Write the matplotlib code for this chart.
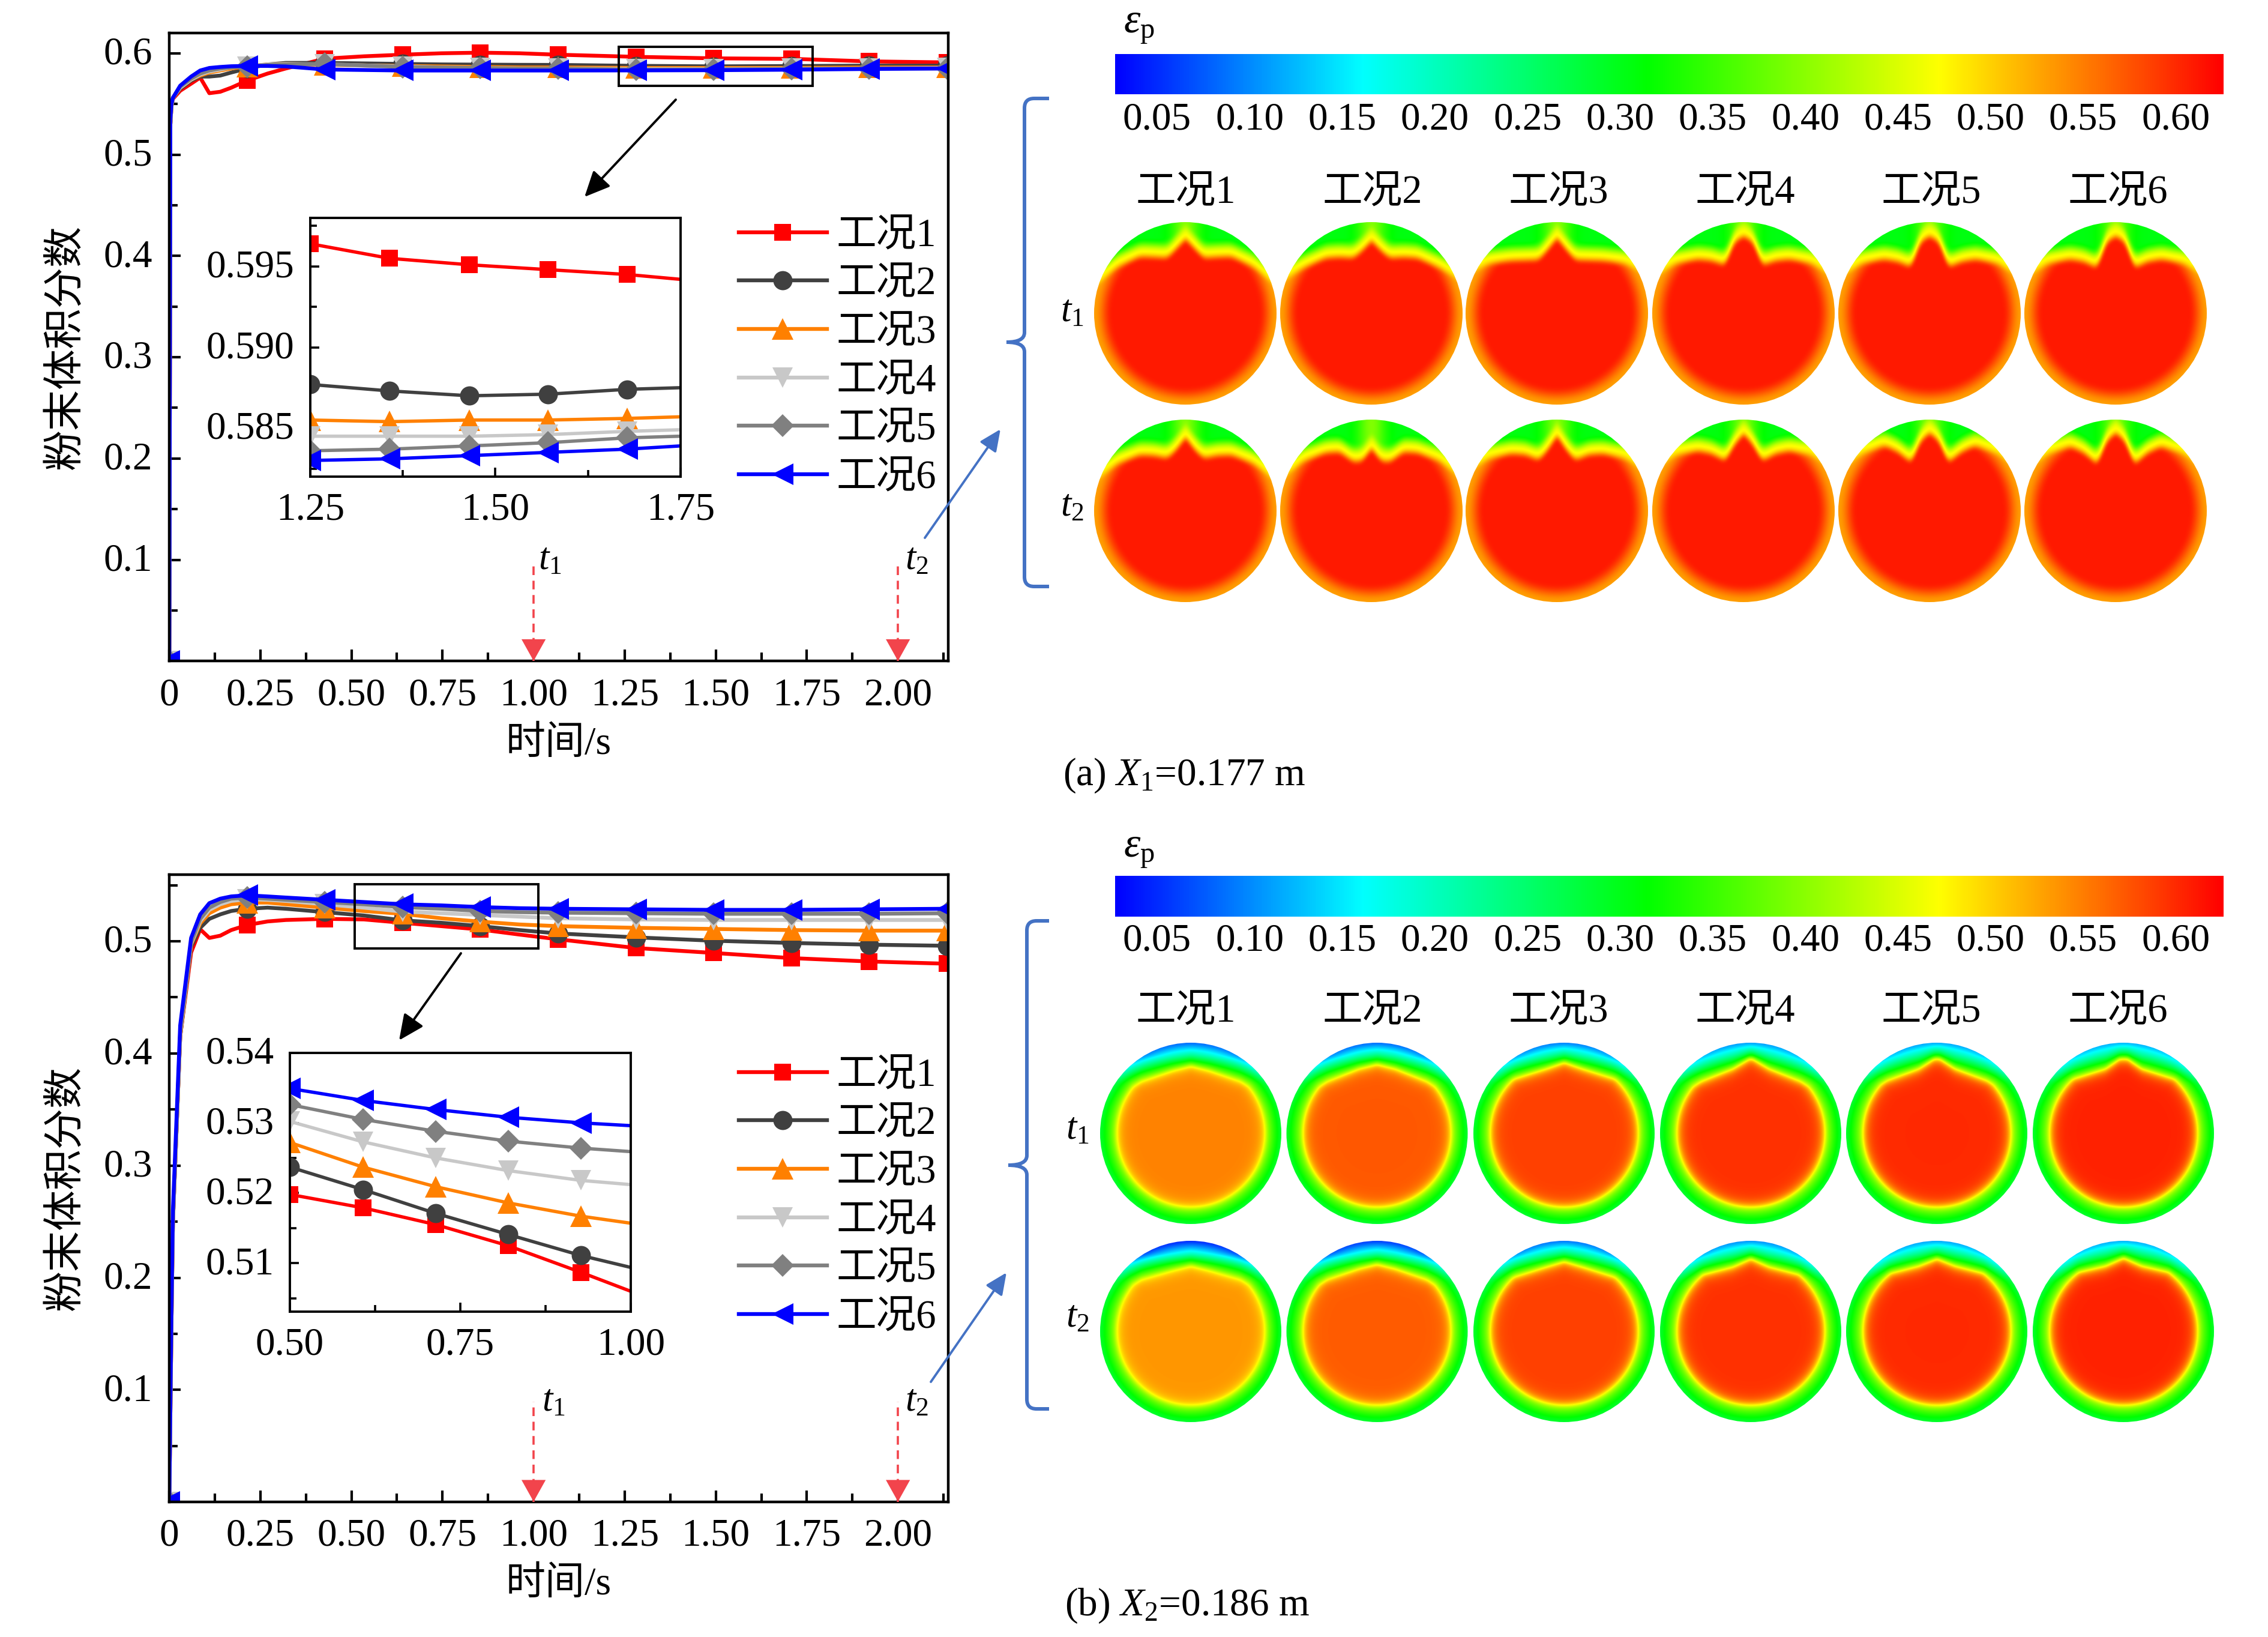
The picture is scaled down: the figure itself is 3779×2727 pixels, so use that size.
import numpy as np
import matplotlib
matplotlib.use("Agg")
import matplotlib.pyplot as plt
from matplotlib.colors import LinearSegmentedColormap
from matplotlib.patches import Circle, PathPatch, Rectangle
from matplotlib.path import Path
from matplotlib.ticker import MultipleLocator, FixedLocator
from matplotlib.transforms import ScaledTranslation

plt.rcParams['font.family'] = ['Liberation Serif', 'Noto Sans CJK SC']
plt.rcParams['mathtext.fontset'] = 'custom'
plt.rcParams['mathtext.rm'] = 'Liberation Serif'
plt.rcParams['mathtext.it'] = 'Liberation Serif:italic'
plt.rcParams['axes.unicode_minus'] = False

W, H = 3780, 2727

names = ['工况1', '工况2', '工况3', '工况4', '工况5', '工况6']
colors = ['#ff0000', '#404040', '#ff8000', '#c8c8c8', '#808080', '#0000ff']
markers = ['s', 'o', '^', 'v', 'D', '<']
marker_sizes = [20, 23, 26, 25, 19, 26]

# time knots of the main curves, marker_idx picks the knots carrying a marker
t_main = [0, .003, .006, .01, .03, .06, .085, .11, .14, .17, .2135, .27, .32, .427,
          .534, .64, .747, .854, .961, 1.067, 1.281, 1.494, 1.708, 1.921, 2.135]
marker_idx = [0, 10, 13, 15, 17, 19, 20, 21, 22, 23, 24]

a_case1 = [0, .530, .548, .555, .563, .570, .576, .5606, .562, .566, .573, .580, .585, .5947,
           .597, .5986, .600, .6006, .600, .5986, .5965, .595, .5945, .592, .591]
a_case2 = [0, .530, .548, .556, .565, .573, .577, .577, .578, .581, .585, .589, .5905, .5905,
           .590, .5895, .589, .5888, .5886, .5885, .5876, .5871, .5874, .5878, .5878]
a_case3 = [0, .530, .548, .556, .566, .574, .578, .581, .583, .585, .587, .589, .5895, .5885,
           .588, .5875, .587, .5865, .586, .586, .5855, .5855, .5856, .586, .586]
a_case4 = [0, .530, .548, .556, .566, .574, .579, .582, .584, .586, .587, .589, .5895, .589,
           .588, .587, .586, .5855, .585, .585, .5845, .5845, .5848, .585, .5855]
a_case5 = [0, .530, .548, .556, .567, .575, .580, .583, .585, .586, .587, .5885, .589, .5895,
           .588, .5865, .586, .5855, .585, .585, .5838, .584, .5845, .585, .585]
a_case6 = [0, .535, .550, .556, .568, .577, .583, .5855, .5865, .5872, .5875, .5875, .587, .584,
           .5835, .583, .583, .583, .583, .583, .5831, .5833, .5838, .5845, .585]
a_series = [a_case1, a_case2, a_case3, a_case4, a_case5, a_case6]

b_case1 = [0, .08, .16, .25, .415, .490, .5107, .503, .505, .510, .5145, .5177, .519, .520,
           .5195, .5165, .5135, .5105, .506, .5018, .494, .4896, .485, .482, .480]
b_case2 = [0, .08, .16, .25, .415, .495, .512, .520, .524, .527, .529, .530, .529, .526,
           .523, .5187, .5165, .5135, .510, .507, .5035, .5005, .4985, .497, .496]
b_case3 = [0, .08, .16, .25, .415, .497, .516, .525, .530, .533, .5345, .5345, .533, .530,
           .527, .5245, .5205, .5175, .515, .5135, .512, .511, .510, .5095, .5095]
b_case4 = [0, .08, .16, .25, .417, .498, .518, .528, .533, .536, .5375, .537, .536, .533,
           .530, .5265, .525, .5235, .522, .5205, .5195, .519, .519, .519, .519]
b_case5 = [0, .08, .16, .25, .418, .499, .520, .530, .535, .538, .539, .538, .537, .535,
           .533, .5305, .529, .527, .526, .5255, .525, .5245, .5245, .5245, .525]
b_case6 = [0, .09, .17, .26, .425, .503, .524, .534, .538, .540, .541, .540, .539, .537,
           .535, .533, .532, .5305, .5295, .529, .5285, .528, .528, .5285, .529]
b_series = [b_case1, b_case2, b_case3, b_case4, b_case5, b_case6]

# zoomed insets
inset_a_t = [1.25, 1.357, 1.465, 1.571, 1.678, 1.75]
inset_a = [[.5964, .5955, .5951, .5948, .5945, .5942],
           [.5877, .5873, .5870, .5871, .5874, .5875],
           [.5855, .5854, .5855, .5855, .5856, .5857],
           [.5845, .5845, .5845, .5846, .5848, .5849],
           [.5836, .5837, .5839, .5841, .5844, .5845],
           [.5830, .5831, .5833, .5835, .5837, .5839]]
inset_b_t = [.5, .607, .714, .82, .927, 1.0]
inset_b = [[.5198, .5179, .5155, .5125, .5087, .5060],
           [.5237, .5205, .5171, .5141, .5111, .5094],
           [.5272, .5237, .5209, .5186, .5167, .5157],
           [.5302, .5273, .5250, .5232, .5218, .5212],
           [.5326, .5305, .5288, .5274, .5264, .5259],
           [.5349, .5332, .5319, .5308, .5300, .5296]]

# colour scale
cbar_ticks = ['0.05', '0.10', '0.15', '0.20', '0.25', '0.30', '0.35', '0.40', '0.45', '0.50', '0.55', '0.60']
scale = LinearSegmentedColormap.from_list('scale', [(0, '#0000ff'), (.223, '#00ffff'), (.48, '#00ff00'),
                                                     (.744, '#ffff00'), (1, '#ff0000')], N=512)
vmin, vmax = .0273, .6257

# upper edge of the powder core in the cross sections of (a), one row per case
profile_x = [0, .1, .2, .35, .5, .75, 1.0]
a_t1_profile = [[.87, .76, .66, .67, .675, .56, .35],
                [.85, .74, .66, .67, .66, .55, .40],
                [.88, .75, .64, .635, .63, .60, .48],
                [.90, .84, .58, .63, .645, .60, .45],
                [.90, .84, .56, .62, .645, .60, .45],
                [.90, .84, .55, .62, .645, .60, .45]]
a_t2_profile = [[.86, .72, .63, .66, .665, .57, .38],
                [.74, .60, .59, .70, .69, .60, .40],
                [.88, .72, .61, .67, .68, .63, .48],
                [.90, .78, .60, .68, .71, .67, .50],
                [.91, .82, .58, .70, .77, .68, .50],
                [.91, .82, .56, .69, .76, .68, .50]]

# cross sections of (b): core value, top of the core, its shoulder and corner height
b_t1_core = [.547, .572, .587, .596, .600, .605]
b_t2_core = [.535, .570, .587, .596, .600, .605]
b_t1_top = [.74, .76, .78, .83, .84, .85]
b_t2_top = [.72, .74, .77, .80, .80, .81]
b_t1_mid = [.69, .71, .71, .71, .71, .71]
b_t2_mid = [.67, .69, .71, .71, .72, .72]
b_t1_corner = [.57, .57, .60, .57, .58, .60]
b_t2_corner = [.57, .57, .60, .62, .63, .64]
b_t1_wall = [.075, .075, .085, .10, .105, .11]
b_t2_wall = [.04, .05, .08, .095, .105, .11]


def rect(left, top, right, bottom):
    return [left / W, 1 - bottom / H, (right - left) / W, (bottom - top) / H]


def sstep(u):
    u = np.clip(u, 0, 1)
    return u * u * (3 - 2 * u)


def grid(n=320):
    c = np.linspace(-1.02, 1.02, n)
    return np.meshgrid(c, -c)


def blur(values, sigma=3.5):
    k = np.exp(-.5 * (np.arange(-12, 13) / sigma) ** 2)
    k /= k.sum()
    pad = np.pad(values, 12, mode='edge')
    pad = np.apply_along_axis(lambda v: np.convolve(v, k, mode='same'), 0, pad)
    pad = np.apply_along_axis(lambda v: np.convolve(v, k, mode='same'), 1, pad)
    return pad[12:-12, 12:-12]


def field_a(profile):
    x, y = grid()
    xs = np.linspace(0, 1.05, 211)
    ys = np.interp(xs, profile_x, profile)
    g = np.exp(-.5 * (np.linspace(-.1, .1, 41) / .03) ** 2)
    ys = np.convolve(np.pad(ys, 20, mode='edge'), g / g.sum(), mode='valid')
    edge = np.interp(np.abs(x), xs, ys)
    r = np.hypot(x, y)
    core = .53 + .08 * sstep((1 - r) / .2)
    d = y - edge
    low = .473 + (core - .473) * sstep(-d / .11)
    green = .305 + .09 * np.exp(-(x / .15) ** 2)
    up = .473 + (green - .473) * sstep(d / .15)
    return blur(np.where(d > 0, up, low), 2.5)


def field_b(core, top, mid, corner, wall):
    x, y = grid()
    r = np.hypot(x, y)
    h = np.interp(np.abs(x), [0, .2, .55, 1], [top, mid, corner, corner - .3])
    chord = np.sqrt(np.clip(1 - x * x, 0, 1))
    u_side = (r - .82) / .18
    u_top = (y - h) / np.maximum(chord - h, .02)
    u = np.clip(np.maximum(u_side, np.where(y > 0, u_top, -1)), -3, 1)
    rim = np.interp(y, [.3, .55, .72, .85, 1], [.285, .27, .17, wall + .02, wall])
    out = .473 + (rim - .473) * np.clip(u, 0, 1) ** .55
    depth = np.maximum(-u_side * .18, 0)
    depth = np.minimum(depth, np.where(y > 0, np.maximum(h - y, 0), 9))
    inn = .473 + (core - .473) * (1 - np.exp(-depth / .05))
    return blur(np.where(u > 0, out, inn), 3)


def draw_section(ov, cx, cy, rad, values):
    im = ov.imshow(values, cmap=scale, vmin=vmin, vmax=vmax, aspect='auto', interpolation='bilinear',
                   extent=[cx - rad * 1.02, cx + rad * 1.02, cy + rad * 1.02, cy - rad * 1.02], zorder=1)
    im.set_clip_path(Circle((cx, cy), rad, transform=ov.transData))


def brace(ov, x_main, x_end, x_tip, top, mid, bottom):
    r = 16
    v = [(x_end, top), (x_main + r, top), (x_main, top), (x_main, top + r),
         (x_main, mid - r), (x_main, mid), (x_tip, mid), (x_main, mid), (x_main, mid + r),
         (x_main, bottom - r), (x_main, bottom), (x_main + r, bottom), (x_end, bottom)]
    c = [Path.MOVETO, Path.LINETO, Path.CURVE3, Path.CURVE3,
         Path.LINETO, Path.CURVE3, Path.CURVE3, Path.CURVE3, Path.CURVE3,
         Path.LINETO, Path.CURVE3, Path.CURVE3, Path.LINETO]
    ov.add_patch(PathPatch(Path(v, c), fc='none', ec='#4472c4', lw=4.3))


def lift_y_labels(fig, ax):
    # digits sit a few pixels under the tick otherwise
    up = ScaledTranslation(0, 5 / 100, fig.dpi_scale_trans)
    for lab in ax.get_yticklabels():
        lab.set_transform(lab.get_transform() + up)


def curve_panel(fig, box, ylim, series, y_minor):
    ax = fig.add_axes(rect(*box), zorder=1)
    for vals, col, mk, ms, name in zip(series, colors, markers, marker_sizes, names):
        ax.plot(t_main, vals, color=col, lw=4.6, marker=mk, ms=ms, mew=0, markevery=marker_idx,
                label=name, clip_on=True)
    ax.set_xlim(0, 2.138)
    ax.set_ylim(*ylim)
    ax.set_xticks(np.arange(0, 2.01, .25))
    ax.set_xticklabels(['0', '0.25', '0.50', '0.75', '1.00', '1.25', '1.50', '1.75', '2.00'])
    ax.xaxis.set_minor_locator(MultipleLocator(.125))
    ax.set_yticks([.1, .2, .3, .4, .5] + ([.6] if ylim[1] > .6 else []))
    ax.yaxis.set_minor_locator(FixedLocator(y_minor))
    ax.tick_params(which='major', direction='in', length=14, width=3, labelsize=47, pad=20)
    ax.tick_params(which='minor', direction='in', length=10, width=3)
    for s in ax.spines.values():
        s.set_linewidth(3.2)
    ax.set_xlabel('时间/s', fontsize=47.5)
    ax.xaxis.set_label_coords(.5, -.104)
    ax.set_ylabel('粉末体积分数', fontsize=49)
    ax.yaxis.set_label_coords(-.108, .5)
    lift_y_labels(fig, ax)
    return ax


def inset_panel(fig, box, xlim, ylim, t, series, xt, xl, yt, yl, ymin):
    ins = fig.add_axes(rect(*box), zorder=3)
    for vals, col, mk, ms in zip(series, colors, markers, marker_sizes):
        ins.plot(t, vals, color=col, lw=4.0, marker=mk, ms=ms, mew=0, markevery=[0, 1, 2, 3, 4])
    ins.set_xlim(*xlim)
    ins.set_ylim(*ylim)
    ins.set_xticks(xt)
    ins.set_xticklabels(xl)
    ins.set_yticks(yt)
    ins.set_yticklabels(yl)
    ins.xaxis.set_minor_locator(MultipleLocator(.125))
    ins.yaxis.set_minor_locator(FixedLocator(ymin))
    ins.tick_params(which='major', direction='in', length=11, width=2.6, labelsize=47, pad=19)
    ins.tick_params(which='minor', direction='in', length=8, width=2.6)
    for s in ins.spines.values():
        s.set_linewidth(2.8)
    lift_y_labels(fig, ins)
    return ins


def time_marks(ax):
    for x in (1.0, 2.0):
        ax.annotate('', xy=(x, ax.get_ylim()[0]), xytext=(0, 26), textcoords='offset points',
                    arrowprops=dict(arrowstyle='-|>,head_length=26,head_width=14.5', color='#f2444c',
                                    lw=0, mutation_scale=1, shrinkA=0, shrinkB=0), zorder=6)


fig = plt.figure(figsize=(W / 100, H / 100), dpi=100, facecolor='white')

ax_a = curve_panel(fig, (282, 55.5, 1580, 1101), (.0002, .6197), a_series,
                   [.05, .15, .25, .35, .45, .55])
ax_b = curve_panel(fig, (282, 1456.7, 1580, 2501.5), (.0004, .5596), b_series,
                   [.05, .15, .25, .35, .45, .55])

for ax, top_y in ((ax_a, 937), (ax_b, 2335)):
    for x in (1.0, 2.0):
        y0 = ax.get_ylim()[0]
        y1 = ax.transData.inverted().transform((0, (1 - top_y / H) * H))[1]
        ax.plot([x, x], [y0, y1], color='#f2444c', lw=2.6, dashes=(4, 2.6), zorder=5)
    time_marks(ax)

for ax, y_top in ((ax_a, 364), (ax_b, 1763)):
    handles, labels = ax.get_legend_handles_labels()
    ax.legend(handles, labels, loc='upper left', frameon=False, fontsize=48, numpoints=1,
              bbox_to_anchor=(1231 / W, 1 - (y_top - 1) / H), bbox_transform=fig.transFigure,
              borderpad=0, borderaxespad=0, handlelength=2.2, handletextpad=.24,
              labelspacing=.295)

inset_panel(fig, (517, 363, 1134, 794), (1.25, 1.75), (.5820, .5980), inset_a_t, inset_a,
            [1.25, 1.5, 1.75], ['1.25', '1.50', '1.75'], [.585, .59, .595], ['0.585', '0.590', '0.595'],
            [.5825, .5875, .5925, .5975])
inset_panel(fig, (483, 1753.6, 1051, 2185), (.5, 1.0), (.5031, .5396), inset_b_t, inset_b,
            [.5, .75, 1.0], ['0.50', '0.75', '1.00'], [.51, .52, .53, .54], ['0.51', '0.52', '0.53', '0.54'],
            [.505, .515, .525, .535])

ov = fig.add_axes([0, 0, 1, 1], zorder=5)
ov.patch.set_alpha(0)
ov.axis('off')

# zoom boxes and pointers
ov.add_patch(Rectangle((1031, 78), 323, 65, fc='none', ec='black', lw=2.8))
ov.add_patch(Rectangle((591, 1473), 306, 107, fc='none', ec='black', lw=2.8))
black = dict(arrowstyle='-|>,head_length=26,head_width=12', color='black', lw=2.8, mutation_scale=1, shrinkA=0, shrinkB=0)
blue = dict(arrowstyle='-|>,head_length=22,head_width=10', color='#4472c4', lw=2.8, mutation_scale=1, shrinkA=0, shrinkB=0)
ov.annotate('', xy=(974, 328), xytext=(1126, 166), arrowprops=black)
ov.annotate('', xy=(665, 1733), xytext=(768, 1588), arrowprops=black)
ov.annotate('', xy=(1667, 715), xytext=(1541, 896), arrowprops=blue)
ov.annotate('', xy=(1677, 2120), xytext=(1551, 2302), arrowprops=blue)

brace(ov, 1707, 1748, 1677, 164, 570, 977)
brace(ov, 1711, 1748, 1680, 1534, 1941, 2347)

# t labels next to the dashed marks
for x, y, lab in ((916, 933, '1'), (1527, 933, '2'), (922, 2335, '1'), (1527, 2335, '2'),
                  (1786, 520, '1'), (1786, 844, '2'), (1795, 1882, '1'), (1795, 2195, '2')):
    ov.text(x, y, '$t_{\\mathrm{%s}}$' % lab, fontsize=45, ha='center', va='center')

# colour bars and section headers
gradient = np.linspace(0, 1, 512).reshape(1, -1)
section_a_x = [1975, 2285, 2594, 2905, 3215, 3525]
section_b_x = [1984, 2294.5, 2606, 2917, 3227, 3538]
header_x = [1976, 2287, 2597, 2908, 3218, 3529]
for top, bottom, lab_y, eps_y, head_y in ((91, 157.5, 200, 44, 322), (1459, 1527, 1568, 1417, 1686)):
    ov.imshow(gradient, cmap=scale, aspect='auto', extent=[1858, 3705, bottom, top], zorder=1)
    for i, lab in enumerate(cbar_ticks):
        ov.text(1928 + i * 154.3, lab_y, lab, fontsize=47, ha='center', va='center')
    ov.text(1898, eps_y, r'$\varepsilon_{\mathrm{p}}$', fontsize=50, ha='center', va='center')
    for hx, name in zip(header_x, names):
        ov.text(hx, head_y, name, fontsize=48, ha='center', va='center')

for i in range(6):
    draw_section(ov, section_a_x[i], 522, 152, field_a(a_t1_profile[i]))
    draw_section(ov, section_a_x[i], 851, 152, field_a(a_t2_profile[i]))
    draw_section(ov, section_b_x[i], 1888, 151, field_b(b_t1_core[i], b_t1_top[i], b_t1_mid[i], b_t1_corner[i], b_t1_wall[i]))
    draw_section(ov, section_b_x[i], 2218, 151, field_b(b_t2_core[i], b_t2_top[i], b_t2_mid[i], b_t2_corner[i], b_t2_wall[i]))

ov.text(1771, 1292, r'(a) $X_{\mathrm{1}}$=0.177 m', fontsize=47, ha='left', va='center')
ov.text(1774, 2675, r'(b) $X_{\mathrm{2}}$=0.186 m', fontsize=47, ha='left', va='center')

ov.set_xlim(0, W)
ov.set_ylim(H, 0)

fig.savefig('out.png', dpi=100)
